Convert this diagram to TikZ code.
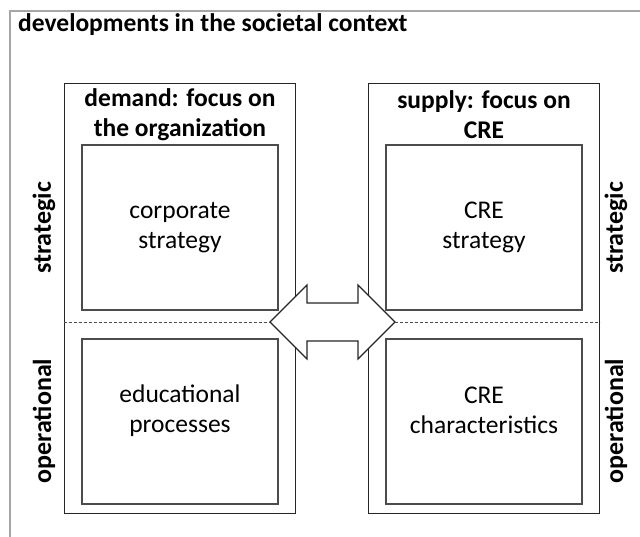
\documentclass[tikz,border=0pt]{standalone}
\usepackage{fontspec}
\setmainfont{Carlito}
\usepackage{tikz}
\usetikzlibrary{positioning}
\tikzset{
	colnode/.style={rectangle, draw=black!85, line width=1pt, minimum width=231pt, minimum height=430pt, inner sep=0pt},
	boxnode/.style={rectangle, draw=black!70, line width=1.3pt, minimum width=196pt, minimum height=165pt, align=center, font=\fontsize{25.5}{30}\selectfont},
	txtnode/.style={align=center, font=\fontsize{25.5}{30}\selectfont},
	headnode/.style={align=center, font=\bfseries\fontsize{25.5}{30}\selectfont},
	sidenode/.style={rotate=90, font=\bfseries\fontsize{26}{30}\selectfont},
	mydashed/.style={dash pattern=on 3pt off 2pt, line width=0.9pt, draw=black!70}
}
\begin{document}
\begin{tikzpicture}[x=1pt, y=-1pt]
		\useasboundingbox (0,0) rectangle (640,536);
		\draw[black!35, line width=2pt] (10,11) rectangle (660,560);
		
		\node[colnode] at (179.5,298) (lcol) {};
		\node[colnode] at (484,298) (rcol) {};
		\node[boxnode] at (180,227.5) (lstrat) {corporate\\strategy};
		\node[boxnode] at (180,421.5) (lop) {};
		\node[boxnode] at (484,227.5) (rstrat) {CRE\\strategy};
		\node[boxnode] at (484,421.5) (rop) {};
		
		%text
		\node[anchor=base west, font=\bfseries\fontsize{25.5}{30}\selectfont, inner sep=0pt] at (18,31) (title) {developments in the societal context};
		\node[headnode] at (180,115) (lhead) {demand: focus on\\the organization};
		\node[headnode] at (484,115) (rhead) {supply: focus on\\CRE};
		\node[txtnode] at ([yshift=11pt]lop.center) (loptxt) {educational\\processes};
		\node[txtnode] at ([yshift=11pt]rop.center) (roptxt) {CRE\\characteristics};
		\node[sidenode] at (44,228) (lsl) {strategic};
		\node[sidenode] at (44,421) (lol) {operational};
		\node[sidenode] at (616,228) (rsl) {strategic};
		\node[sidenode] at (616,421) (rol) {operational};
		
		%arrow
		\coordinate (tipl) at (270,322);
		\coordinate (tipr) at (395,322);
		\draw[black!85, line width=1.1pt, fill=white] (tipl) -- (307,285) -- (307,303) -- (358,303) -- (358,285) -- (tipr)
			-- (358,359) -- (358,341) -- (307,341) -- (307,359) -- cycle;
		
		%Lines
		\draw[mydashed] (lcol.west |- tipl) -- (tipl);
		\draw[mydashed] (tipr) -- (rcol.east |- tipr);
		
	\end{tikzpicture}
\end{document}
